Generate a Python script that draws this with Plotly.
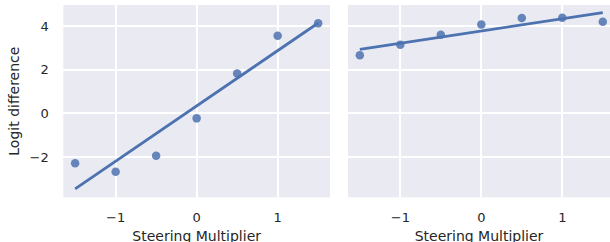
import numpy as np
import plotly.graph_objects as go

multipliers = [-1.5, -1.0, -0.5, 0.0, 0.5, 1.0, 1.5]
left_values = [-2.29, -2.68, -1.94, -0.23, 1.83, 3.56, 4.13]
right_values = [2.66, 3.15, 3.61, 4.08, 4.37, 4.39, 4.20]
x_ticks = [-1, 0, 1]
y_ticks = [-2, 0, 2, 4]

BLUE = "#4C72B0"
BG = "#EAEAF2"
TXT = "#262626"
FONT = "DejaVu Sans"

fig = go.Figure()

for vals, xa, ya in [(left_values, "x", "y"), (right_values, "x2", "y2")]:
    slope, intercept = np.polyfit(multipliers, vals, 1)
    xs = np.array([min(multipliers), max(multipliers)])
    fig.add_trace(go.Scatter(x=xs, y=slope * xs + intercept, mode="lines",
                             line=dict(color=BLUE, width=2.8),
                             xaxis=xa, yaxis=ya, showlegend=False, hoverinfo="skip"))
    fig.add_trace(go.Scatter(x=multipliers, y=vals, mode="markers",
                             marker=dict(color=BLUE, size=8.5, opacity=0.85,
                                         line=dict(width=0)),
                             xaxis=xa, yaxis=ya, showlegend=False))

W, H = 610, 250
dom_y = [(H - 197.3) / H, (H - 5) / H]

common_x = dict(tickvals=x_ticks, showgrid=True, gridcolor="white", gridwidth=1.5,
                zeroline=False, showline=False, ticks="outside", ticklen=8,
                tickcolor="rgba(0,0,0,0)", tickfont=dict(family=FONT, size=13, color=TXT),
                title=dict(text="Steering Multiplier", font=dict(family=FONT, size=14, color=TXT),
                           standoff=7),
                automargin=False)
common_y = dict(tickvals=y_ticks, range=[-3.85, 4.97], showgrid=True, gridcolor="white",
                gridwidth=1.5, zeroline=False, showline=False, domain=dom_y,
                automargin=False)

fig.update_layout(
    width=W, height=H,
    margin=dict(l=0, r=0, t=0, b=0),
    paper_bgcolor="white", plot_bgcolor=BG,
    xaxis=dict(common_x, domain=[63.3 / W, 330 / W], range=[-1.646, 1.646], anchor="y"),
    xaxis2=dict(common_x, domain=[348 / W, 1.0], range=[-1.646, 1.589], anchor="y2"),
    yaxis=dict(common_y, anchor="x", ticks="outside", ticklen=11,
               tickcolor="rgba(0,0,0,0)",
               tickfont=dict(family=FONT, size=13, color=TXT),
               title=dict(text="Logit difference", font=dict(family=FONT, size=14, color=TXT),
                          standoff=6)),
    yaxis2=dict(common_y, anchor="x2", showticklabels=False, matches="y"),
)

fig.write_html("out.html", config={"displayModeBar": False},
               post_script="document.body.style.margin='0';document.body.style.overflow='hidden';")
